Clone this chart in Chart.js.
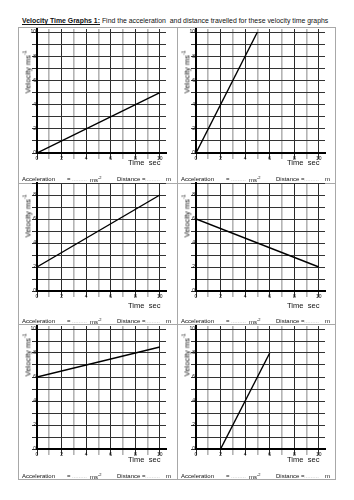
<!DOCTYPE html>
<html>
<head>
<meta charset="utf-8">
<script src="https://cdn.jsdelivr.net/npm/chart.js"></script>
<style>
  body { margin: 0; background: #fff; }
  #page { position: relative; width: 354px; height: 500px; font-family: "Liberation Sans", sans-serif; color: #111; }
  #page canvas, .t, .ln { position: absolute; }
  .t { white-space: nowrap; line-height: 1; }
  .ln { background: #a8a8a8; }
  .blank { color: #aaa; }
  .vt { transform: translate(-50%, -50%) rotate(-90deg); }
</style>
</head>
<body>
<div id="page"></div>
<script>
// one line per graph: start and end points
const graphTimes = [[0, 10], [0, 5], [0, 10], [0, 10], [0, 10], [2, 6]]
const graphVelocities = [[0, 5], [0, 10], [2, 8], [6, 2], [6, 8.5], [0, 8]]
const timeTicks = [0, 2, 4, 6, 8, 10]
const velocityTicks = [0, 2, 4, 6, 8, 10]
const yTopValues = [10.25, 9, 10.25]   // middle row is cut off above 9

// sheet geometry
const colAxisX = [37, 195.5]
const rowZeroY = [153, 291, 449]
const rowUnit = [12.05, 12, 12]
const xUnit = 12.25
const xMax = 10.5
const rowAccelY = [176, 318, 473]
const rowTimeY = [159, 302, 456]
const rowVelY = [72, 216, 355]

const page = document.getElementById('page')

function addText(html, x, y, size, extra) {
    const d = document.createElement('div')
    d.className = 't'
    d.innerHTML = html
    d.style.left = x + 'px'
    d.style.top = y + 'px'
    d.style.fontSize = size + 'px'
    if (extra) Object.assign(d.style, extra)
    page.appendChild(d)
    return d
}

function addLine(x, y, w, h) {
    const d = document.createElement('div')
    d.className = 'ln'
    d.style.left = x + 'px'
    d.style.top = y + 'px'
    d.style.width = w + 'px'
    d.style.height = h + 'px'
    page.appendChild(d)
}

// worksheet frame
addLine(18, 27, 317, 1)
addLine(18, 479, 318, 1)
addLine(18, 27, 1, 452)
addLine(335, 27, 1, 452)
addLine(177, 27, 1, 452)
addLine(18, 183, 317, 1)
addLine(18, 324, 317, 1)

addText('<b><u>Velocity Time Graphs 1:</u></b> Find the acceleration &nbsp;and distance travelled for these velocity time graphs', 22, 18, 6.9)

Chart.defaults.font.family = '"Liberation Sans", sans-serif'
Chart.defaults.color = '#111'

function drawGraph(i) {
    const col = i % 2
    const row = Math.floor(i / 2)
    const axisX = Math.round(colAxisX[col])
    const zeroY = Math.round(rowZeroY[row])
    const areaTop = Math.round(rowZeroY[row] - yTopValues[row] * rowUnit[row])
    const areaH = zeroY - areaTop
    const areaW = Math.round(xMax * xUnit)
    const yw = 14, xh = 14, padT = 4, padR = 4

    const cv = document.createElement('canvas')
    cv.width = yw + areaW + padR
    cv.height = padT + areaH + xh
    cv.style.left = (axisX - yw) + 'px'
    cv.style.top = (areaTop - padT) + 'px'
    cv.style.width = cv.width + 'px'
    cv.style.height = cv.height + 'px'
    page.appendChild(cv)

    const points = graphTimes[i].map((t, k) => ({ x: t, y: graphVelocities[i][k] }))
    const ints = (n) => Array.from({ length: n + 1 }, (_, k) => ({ value: k }))

    new Chart(cv, {
        type: 'scatter',
        data: {
            datasets: [
                {
                    data: points,
                    showLine: true,
                    borderColor: '#000',
                    borderWidth: 1.4,
                    pointRadius: 0,
                },
            ],
        },
        options: {
            responsive: false,
            animation: false,
            layout: { padding: { top: padT, right: padR, left: 0, bottom: 0 } },
            plugins: { legend: { display: false }, tooltip: { enabled: false } },
            scales: {
                x: {
                    type: 'linear',
                    min: 0,
                    max: xMax,
                    afterBuildTicks: (s) => { s.ticks = ints(10) },
                    afterFit: (s) => { s.height = xh },
                    grid: {
                        color: (c) => (c.tick.value % 2 ? '#b4b4b4' : '#2a2a2a'),
                        lineWidth: (c) => (c.tick.value % 2 ? 1.6 : 1),
                        tickLength: 6,
                    },
                    border: { color: '#000', width: 2 },
                    ticks: {
                        autoSkip: false,
                        maxRotation: 0,
                        padding: -3,
                        font: { size: 5 },
                        callback: (v) => (timeTicks.includes(v) ? String(v) : ''),
                    },
                },
                y: {
                    type: 'linear',
                    min: 0,
                    max: yTopValues[row],
                    afterBuildTicks: (s) => { s.ticks = ints(Math.floor(yTopValues[row])) },
                    afterFit: (s) => { s.width = yw },
                    grid: {
                        color: '#333',
                        lineWidth: 1,
                        tickLength: 5,
                    },
                    border: { color: '#000', width: 2 },
                    ticks: {
                        autoSkip: false,
                        padding: -4,
                        font: { size: 5 },
                        callback: (v) => (velocityTicks.includes(v) ? String(v) : ''),
                    },
                },
            },
        },
    })

    // labels round the graph
    addText('Velocity ms<sup style="font-size:5px">-1</sup>', axisX - 10, rowVelY[row], 7.6, {}).classList.add('vt')
    addText('Time &nbsp;sec', axisX + 91, rowTimeY[row], 7.6)
    const ay = rowAccelY[row]
    addText('Acceleration', axisX - 15, ay, 6)
    addText('=', axisX + 30, ay, 6)
    addText('<span class="blank">.........</span>', axisX + 35, ay, 6)
    addText('ms<sup style="font-size:4px">-2</sup>', axisX + 53, ay, 6)
    addText('Distance =', axisX + 80, ay, 6)
    addText('<span class="blank">.........</span>', axisX + 108, ay, 6)
    addText('m', axisX + 129, ay, 6)
}

for (let i = 0; i < graphTimes.length; i++) drawGraph(i)
</script>
</body>
</html>
